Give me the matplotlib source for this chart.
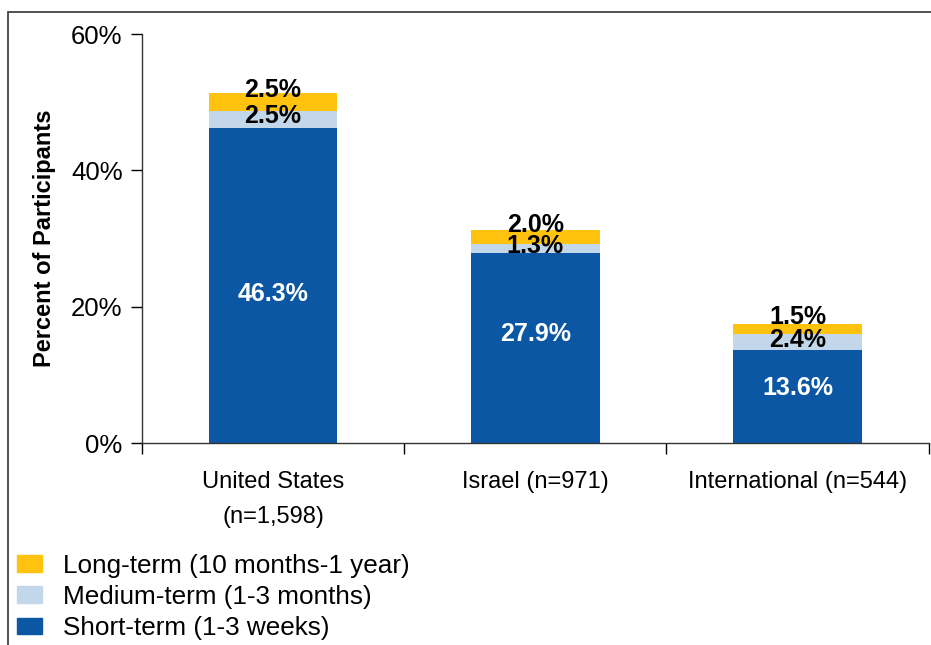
import matplotlib
matplotlib.use("Agg")
import matplotlib.pyplot as plt
from matplotlib.patches import Patch, Rectangle
import numpy as np

categories = ["United States\n(n=1,598)", "Israel (n=971)", "International (n=544)"]
short_term = [46.3, 27.9, 13.6]
medium_term = [2.5, 1.3, 2.4]
long_term = [2.5, 2.0, 1.5]
series_names = ["Long-term (10 months-1 year)", "Medium-term (1-3 months)", "Short-term (1-3 weeks)"]
yticks = [0, 20, 40, 60]
ytick_labels = ["0%", "20%", "40%", "60%"]

c_short = "#0B57A4"
c_med = "#C2D7E9"
c_long = "#FFC20E"

plt.rcParams['font.family'] = ['Liberation Sans', 'DejaVu Sans']

fig = plt.figure(figsize=(9.31, 6.45), dpi=100)
ax = fig.add_axes([0.1525, 0.313, 0.845, 0.634])

x = np.arange(len(categories))
w = 0.49
short = np.array(short_term)
med = np.array(medium_term)
lng = np.array(long_term)
ax.bar(x, short, w, color=c_short, zorder=2)
ax.bar(x, med, w, bottom=short, color=c_med, zorder=2)
ax.bar(x, lng, w, bottom=short + med, color=c_long, zorder=2)

ax.set_xlim(-0.5, 2.5)
ax.set_ylim(0, 60)
ax.set_yticks(yticks)
ax.set_yticklabels(ytick_labels, fontsize=18.5)
ax.tick_params(axis='y', length=8, width=1, pad=6, direction='out')

ax.set_xticks([-0.5, 0.5, 1.5, 2.5])
ax.set_xticklabels([])
ax.tick_params(axis='x', which='major', length=8, width=1, direction='out')
ax.set_xticks(x, minor=True)
ax.set_xticklabels(categories, minor=True, fontsize=17,
                   family=['Liberation Sans Narrow', 'Liberation Sans', 'DejaVu Sans'],
                   linespacing=1.75)
ax.tick_params(axis='x', which='minor', length=0, pad=20)

for s in ['top', 'right']:
    ax.spines[s].set_visible(False)
for s in ['left', 'bottom']:
    ax.spines[s].set_linewidth(1)
    ax.spines[s].set_color('#333333')

ax.set_ylabel("Percent of Participants", fontsize=17, fontweight='bold', labelpad=11)

short_off = [-1.3, 2.1, 1.3]
for i in range(len(categories)):
    ax.text(x[i], short[i] / 2 + short_off[i], f"{short[i]:.1f}%", ha='center', va='center',
            color='white', fontsize=18, fontweight='bold', zorder=3)
    ax.text(x[i], short[i] + med[i] / 2 + 0.4, f"{med[i]:.1f}%", ha='center', va='center',
            color='black', fontsize=18, fontweight='bold', zorder=3)
    ax.text(x[i], short[i] + med[i] + lng[i] / 2 + 1.8, f"{lng[i]:.1f}%", ha='center', va='center',
            color='black', fontsize=18, fontweight='bold', zorder=3)

handles = [Patch(color=c_long), Patch(color=c_med), Patch(color=c_short)]
fig.legend(handles, series_names, loc='upper left', bbox_to_anchor=(0.0075, 0.158),
           frameon=False, fontsize=18.8, handlelength=0.95, handleheight=0.62,
           handletextpad=0.8, labelspacing=0.28, borderaxespad=0)

fig.patches.append(Rectangle((8 / 931, -0.05), 1.0, 1 - 12 / 645 + 0.05,
                             transform=fig.transFigure, fill=False,
                             edgecolor='#333333', linewidth=1.2))

fig.savefig("out.png", dpi=100)
